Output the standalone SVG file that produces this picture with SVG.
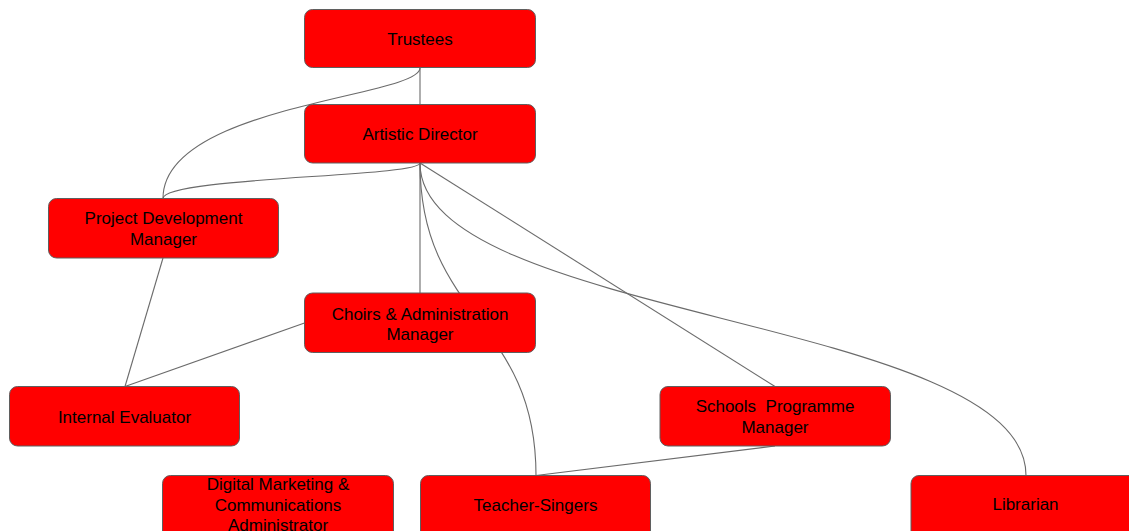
<svg xmlns="http://www.w3.org/2000/svg" width="1129" height="531" viewBox="0 0 1129 531">
<style>
.n{fill:#ff0000;stroke:#5f5f5f;stroke-width:1}
.c{fill:none;stroke:#6b6b6b;stroke-width:1.1}
text{font-family:"Liberation Sans",Arial,sans-serif;font-size:17px;fill:#000;text-anchor:middle;white-space:pre}
</style>
<rect width="1129" height="531" fill="#ffffff"/>
<g id="connectors">
<path class="c" d="M420,68 L420,104"/>
<path class="c" d="M420,68 C420,97 163,105 163,198.5"/>
<path class="c" d="M420,163 C420,177 163,177 163,198.5"/>
<path class="c" d="M420,163 L420,293"/>
<path class="c" d="M420,163 C420,319 536,319 536,475.5"/>
<path class="c" d="M420,163 L775,386.5"/>
<path class="c" d="M420,163 C420,320 1026,317 1026,475.5"/>
<path class="c" d="M163,258 L125,386.5"/>
<path class="c" d="M304.5,323 L125,386.5"/>
<path class="c" d="M775,446 L536,475.5"/>
</g>
<g id="trustees"><rect class="n" x="304.5" y="9.5" width="231" height="58" rx="8"/><text x="420" y="45">Trustees</text></g>
<g id="artistic-director"><rect class="n" x="304.5" y="104.5" width="231" height="58.5" rx="8"/><text x="420" y="139.5">Artistic Director</text></g>
<g id="project-development-manager"><rect class="n" x="48.5" y="198.5" width="230" height="59.5" rx="8"/><text x="163.5" y="224">Project Development</text><text x="163.5" y="244.5">Manager</text></g>
<g id="choirs-admin-manager"><rect class="n" x="304.5" y="293" width="231" height="59.5" rx="8"/><text x="420" y="319.5">Choirs &amp; Administration</text><text x="420" y="340">Manager</text></g>
<g id="internal-evaluator"><rect class="n" x="9.5" y="386.5" width="230" height="59.5" rx="8"/><text x="124.5" y="422.5">Internal Evaluator</text></g>
<g id="schools-programme-manager"><rect class="n" x="660" y="386.5" width="230.5" height="59.5" rx="8"/><text x="775" y="411.5" xml:space="preserve">Schools  Programme</text><text x="775" y="432.5">Manager</text></g>
<g id="digital-marketing"><rect class="n" x="162.5" y="475.5" width="231" height="70" rx="8"/><text x="278" y="490">Digital Marketing &amp;</text><text x="278" y="510.5">Communications</text><text x="278" y="531">Administrator</text></g>
<g id="teacher-singers"><rect class="n" x="420.5" y="475.5" width="230" height="70" rx="8"/><text x="535.5" y="510.5">Teacher-Singers</text></g>
<g id="librarian"><rect class="n" x="911" y="475.5" width="231" height="70" rx="8"/><text x="1025.5" y="510">Librarian</text></g>
</svg>
